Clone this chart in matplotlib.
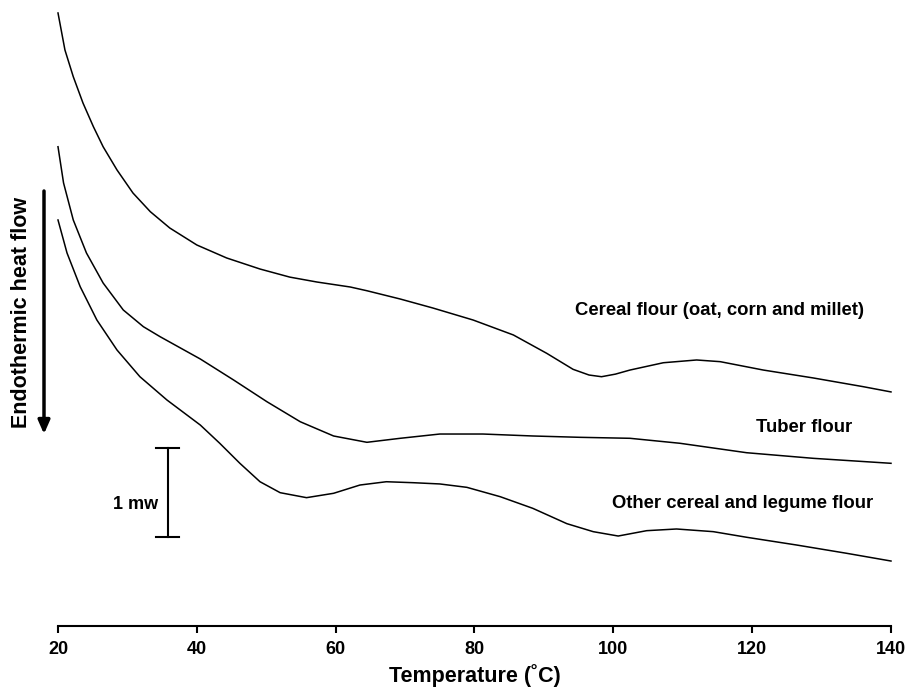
import matplotlib
matplotlib.use("Agg")
import matplotlib.pyplot as plt

plt.rcParams['font.family'] = ['Liberation Sans', 'DejaVu Sans']
plt.rcParams['font.weight'] = 'bold'

# Temperature (°C) and relative heat flow (mW)
cereal_T = [20, 21.0, 22.2, 23.6, 25.1, 26.5, 28.5, 30.8, 33.3, 36.1, 40.0, 44.3, 49.1, 53.4,
            57.3, 62.1, 64.5, 69.3, 74.0, 79.8, 85.6, 90.4, 94.2, 96.5, 98.3, 100.3, 102.4,
            107.2, 112.0, 115.4, 121.6, 128.8, 136.0, 140]
cereal_Q = [6.888, 6.472, 6.172, 5.876, 5.610, 5.385, 5.124, 4.865, 4.655, 4.472, 4.281, 4.135,
            4.011, 3.920, 3.865, 3.809, 3.767, 3.674, 3.573, 3.438, 3.270, 3.064, 2.884, 2.820,
            2.801, 2.830, 2.876, 2.958, 2.989, 2.970, 2.876, 2.787, 2.689, 2.630]

tuber_T = [20, 20.8, 22.2, 24.1, 26.5, 29.4, 32.3, 34.7, 40.5, 45.3, 50.1, 54.9, 59.7, 64.5,
           69.3, 75.0, 81.2, 88.4, 95.2, 102.4, 109.6, 119.2, 128.8, 140]
tuber_Q = [5.385, 4.978, 4.562, 4.191, 3.854, 3.551, 3.363, 3.251, 3.000, 2.764, 2.520, 2.295,
           2.135, 2.064, 2.109, 2.157, 2.157, 2.135, 2.120, 2.109, 2.053, 1.947, 1.884, 1.828]

other_T = [20, 21.3, 23.2, 25.6, 28.5, 31.8, 35.7, 40.5, 43.3, 46.2, 49.1, 52.0, 55.8, 59.7,
           63.5, 67.3, 71.2, 75.0, 78.9, 83.7, 88.4, 93.3, 97.1, 100.7, 104.8, 109.1, 114.4,
           119.2, 126.4, 133.6, 140]
other_Q = [4.562, 4.191, 3.812, 3.438, 3.101, 2.801, 2.539, 2.258, 2.053, 1.828, 1.621, 1.498,
           1.442, 1.491, 1.584, 1.621, 1.610, 1.596, 1.558, 1.453, 1.322, 1.150, 1.060, 1.011,
           1.071, 1.090, 1.060, 0.997, 0.910, 0.817, 0.730]

labels = ["Cereal flour (oat, corn and millet)", "Tuber flour", "Other cereal and legume flour"]
xticks = [20, 40, 60, 80, 100, 120, 140]
scale_mw = 1.0

fig = plt.figure(figsize=(9.07, 6.95), dpi=100)
ax = fig.add_axes([58/907, 69/695, 833/907, 626/695])
ax.set_xlim(20, 140)
ax.set_ylim(0, 626/89)

for T, Q in [(cereal_T, cereal_Q), (tuber_T, tuber_Q), (other_T, other_Q)]:
    ax.plot(T, Q, color='black', lw=1.1, clip_on=False, solid_joinstyle='round')

for s in ['top', 'right', 'left']:
    ax.spines[s].set_visible(False)
ax.spines['bottom'].set_linewidth(1.5)
ax.set_yticks([])
ax.set_xticks(xticks)
ax.set_xticklabels([str(t) for t in xticks], fontsize=13, fontweight='bold')
ax.tick_params(axis='x', direction='out', length=5, width=1.5, pad=6)
ax.set_xlabel("Temperature (˚C)", fontsize=15.5, fontweight='bold', labelpad=4)

ax.text(94.5, 3.494, labels[0], fontsize=13.3, fontweight='bold', va='baseline', ha='left')
ax.text(120.6, 2.183, labels[1], fontsize=13.3, fontweight='bold', va='baseline', ha='left')
ax.text(99.8, 1.322, labels[2], fontsize=13.3, fontweight='bold', va='baseline', ha='left')

# scale bar 1 mW
xb = 35.8
y0 = 0.997
ax.plot([xb, xb], [y0, y0 + scale_mw], color='black', lw=1.5)
ax.plot([xb - 1.7, xb + 1.7], [y0, y0], color='black', lw=1.5)
ax.plot([xb - 1.7, xb + 1.7], [y0 + scale_mw, y0 + scale_mw], color='black', lw=1.5)
ax.text(34.4, 1.315, "1 mw", fontsize=13, fontweight='bold', ha='right', va='baseline')

# endothermic arrow
fig.text(21.5/907, 1 - 312/695, "Endothermic heat flow", rotation=90, fontsize=15.5,
         fontweight='bold', ha='center', va='center')
ax.annotate("", xy=(44/907, 1 - 434/695), xytext=(44/907, 1 - 191/695),
            xycoords='figure fraction', textcoords='figure fraction',
            arrowprops=dict(arrowstyle='-|>,head_length=0.8,head_width=0.35', lw=2.5,
                            color='black', shrinkA=0, shrinkB=0))

fig.savefig("out.png", dpi=100)
